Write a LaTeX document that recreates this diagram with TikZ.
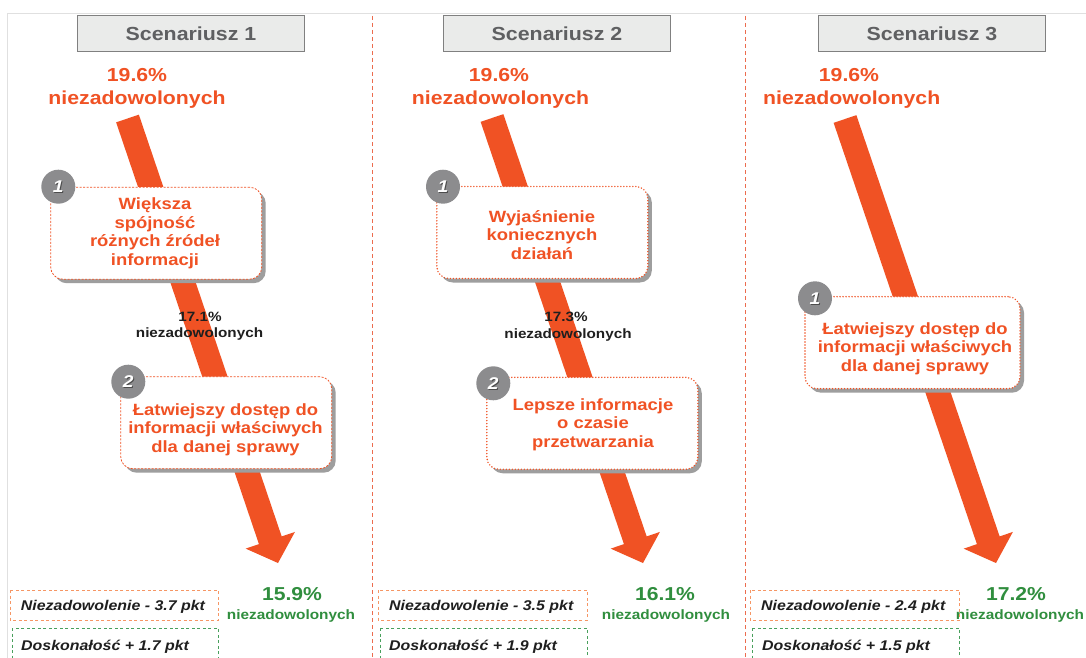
\documentclass[tikz,border=0pt]{standalone}
\usepackage{fontspec}
\setmainfont{Liberation Sans}[FakeStretch=1.13]
\usetikzlibrary{calc,shadows}

\definecolor{accent}{RGB}{240,82,36}
\definecolor{okgreen}{RGB}{48,142,62}
\definecolor{titlefill}{RGB}{234,235,234}
\definecolor{titleline}{RGB}{128,128,128}
\definecolor{titletext}{RGB}{95,96,98}
\definecolor{framegray}{RGB}{224,224,224}
\definecolor{sepline}{RGB}{236,108,78}
\definecolor{badgegray}{RGB}{140,140,142}
\definecolor{lossline}{RGB}{246,150,100}
\definecolor{gainline}{RGB}{72,160,92}

\tikzset{
  titlebox/.style={draw=titleline, fill=titlefill, line width=1.1pt,
    minimum width=227pt, minimum height=35.5pt, inner sep=0pt,
    text=titletext, font=\bfseries\fontsize{18.9}{20}\selectfont},
  headtext/.style={text=accent, anchor=base, inner sep=0pt,
    font=\bfseries\fontsize{18.8}{20}\selectfont},
  midtext/.style={text=black!88, anchor=base, inner sep=0pt,
    font=\bfseries\fontsize{13.5}{15}\selectfont},
  greenbig/.style={text=okgreen, anchor=base, inner sep=0pt,
    font=\bfseries\fontsize{18.7}{20}\selectfont},
  greensmall/.style={text=okgreen, anchor=base, inner sep=0pt,
    font=\bfseries\fontsize{13.6}{15}\selectfont},
  cardbase/.style={fill=white, rounded corners=12pt, inner sep=0pt,
    minimum width=211pt, minimum height=92pt,
    drop shadow={shadow xshift=4pt, shadow yshift=-4pt, fill=black!38, opacity=1}},
  cardfine/.style={cardbase, draw=accent, line width=0.8pt,
    dash pattern=on 2pt off 1.5pt},
  carddots/.style={cardbase, draw=accent, line width=1.6pt,
    dash pattern=on 0pt off 3pt, line cap=round},
  cardtext/.style={text=accent, align=center, inner sep=0pt,
    font=\bfseries\fontsize{16.3}{18.5}\selectfont},
  badge/.style={circle, fill=badgegray, minimum size=34pt, inner sep=0pt},
  badgenum/.style={text=white, inner sep=0pt,
    font=\bfseries\itshape\fontsize{17}{17}\selectfont},
  badgeshade/.style={text=black!70, inner sep=0pt,
    font=\bfseries\itshape\fontsize{17}{17}\selectfont},
  lossbox/.style={draw=lossline, line width=0.9pt, dash pattern=on 3pt off 2.5pt},
  gainbox/.style={draw=gainline, line width=0.9pt, dash pattern=on 3pt off 2.5pt},
  pkttext/.style={text=black!88, anchor=base west, inner sep=0pt,
    font=\bfseries\itshape\fontsize{14.1}{15}\selectfont},
  arrowfill/.style={fill=accent},
  separator/.style={draw=sepline, line width=0.9pt, dash pattern=on 4pt off 3pt},
}

% broad arrow from #1 to the tip #2; #3 names the centre of the head's base
\newcommand{\flowarrow}[3]{%
  \coordinate (#3) at ($(#2)!24pt!(#1)$);
  \fill[arrowfill] ($(#1)!12pt!90:(#2)$) -- ($(#3)!12pt!90:(#2)$)
    -- ($(#3)!26pt!90:(#2)$) -- (#2) -- ($(#3)!26pt!-90:(#2)$)
    -- ($(#3)!12pt!-90:(#2)$) -- ($(#1)!12pt!-90:(#2)$) -- cycle;
}

% grey numbered disc
\newcommand{\numbadge}[3]{%
  \node[badge] (#1) at (#2) {};
  \node[badgeshade] (#1s) at ($(#1)+(0.9,0.9)$) {#3};
  \node[badgenum] (#1n) at (#1) {#3};
}

\begin{document}
\begin{tikzpicture}[x=1pt,y=-1pt]
  \clip (0,0) rectangle (1086,658);
  \fill[white] (0,0) rectangle (1086,658);

  % outer frame and column separators
  \draw[framegray, line width=1pt] (7.5,658) -- (7.5,13.5) -- (1086,13.5);
  \draw[separator] (372,16) -- (372,658);
  \draw[separator] (745,16) -- (745,658);

  % column titles
  \node[titlebox] (title1) at (191,33.7) {Scenariusz 1};
  \node[titlebox] (title2) at (557,33.7) {Scenariusz 2};
  \node[titlebox] (title3) at (932,33.7) {Scenariusz 3};

  % starting values
  \node[headtext] (h1a) at (137,82) {19.6\%};
  \node[headtext] (h1b) at (137,105) {niezadowolonych};
  \node[headtext] (h2a) at (499,82) {19.6\%};
  \node[headtext] (h2b) at (500.5,105) {niezadowolonych};
  \node[headtext] (h3a) at (849,82) {19.6\%};
  \node[headtext] (h3b) at (851.7,105) {niezadowolonych};

  % trend arrows
  \coordinate (s1) at (127.5,118.5); \coordinate (t1) at (278,563);
  \coordinate (s2) at (492,118);     \coordinate (t2) at (643,563);
  \coordinate (s3) at (845,119);     \coordinate (t3) at (996,563);
  \flowarrow{s1}{t1}{hb1}
  \flowarrow{s2}{t2}{hb2}
  \flowarrow{s3}{t3}{hb3}

  % scenario 1
  \node[cardfine] (c11) at (156.2,233.2) {};
  \node[cardtext] (c11t) at (155,233.5) {Większa\\spójność\\różnych źródeł\\informacji};
  \numbadge{b11}{58.3,186.7}{1}
  \node[midtext] (m1a) at (200,321.7) {17.1\%};
  \node[midtext] (m1b) at (199.5,337.3) {niezadowolonych};
  \node[cardfine] (c12) at (226.2,422.7) {};
  \node[cardtext] (c12t) at (225.5,429.3) {Łatwiejszy dostęp do\\informacji właściwych\\dla danej sprawy};
  \numbadge{b12}{128.3,381.7}{2}

  % scenario 2
  \node[carddots] (c21) at (542.3,232.5) {};
  \node[cardtext] (c21t) at (542,235) {Wyjaśnienie\\koniecznych\\działań};
  \numbadge{b21}{443,186.7}{1}
  \node[midtext] (m2a) at (566,321.7) {17.3\%};
  \node[midtext] (m2b) at (568,338.3) {niezadowolonych};
  \node[carddots] (c22) at (592.3,423.3) {};
  \node[cardtext] (c22t) at (593,424.3) {Lepsze informacje\\o czasie\\przetwarzania};
  \numbadge{b22}{493.3,383.3}{2}

  % scenario 3
  \node[carddots, minimum width=215pt] (c31) at (912.5,342.7) {};
  \node[cardtext] (c31t) at (915,348.5) {Łatwiejszy dostęp do\\informacji właściwych\\dla danej sprawy};
  \numbadge{b31}{815,298.3}{1}

  % resulting values
  \node[greenbig] (r1a) at (292,600.7) {15.9\%};
  \node[greensmall] (r1b) at (291,619) {niezadowolonych};
  \node[greenbig] (r2a) at (665,600.7) {16.1\%};
  \node[greensmall] (r2b) at (666,619) {niezadowolonych};
  \node[greenbig] (r3a) at (1016,600.7) {17.2\%};
  \node[greensmall] (r3b) at (1020,619) {niezadowolonych};

  % point changes
  \draw[lossbox] (10,590) rectangle (218,620);
  \node[pkttext] (p1a) at (20.7,610.7) {Niezadowolenie - 3.7 pkt};
  \draw[gainbox] (12,628) rectangle (218,670);
  \node[pkttext] (p1b) at (21,650.7) {Doskonałość + 1.7 pkt};

  \draw[lossbox] (378,590) rectangle (587,620);
  \node[pkttext] (p2a) at (389,610.7) {Niezadowolenie - 3.5 pkt};
  \draw[gainbox] (380,628) rectangle (587,670);
  \node[pkttext] (p2b) at (389,650.7) {Doskonałość + 1.9 pkt};

  \draw[lossbox] (750,590) rectangle (959,620);
  \node[pkttext] (p3a) at (761,610.7) {Niezadowolenie - 2.4 pkt};
  \draw[gainbox] (752,628) rectangle (959,670);
  \node[pkttext] (p3b) at (762,650.7) {Doskonałość + 1.5 pkt};
\end{tikzpicture}
\end{document}
